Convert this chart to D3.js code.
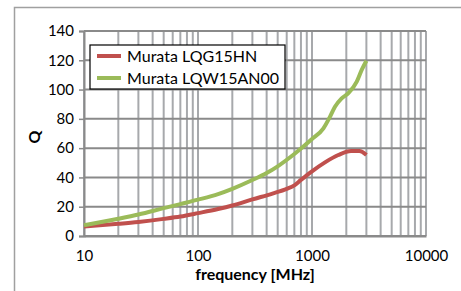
<!DOCTYPE html>
<html><head><meta charset="utf-8">
<script src="https://cdn.jsdelivr.net/npm/d3@7"></script>
<style>body{margin:0;background:#fff;} svg{display:block;font-family:Lato, "Open Sans", sans-serif;}</style>
</head><body>
<script>
const seriesNames = ["Murata LQG15HN", "Murata LQW15AN00"];
const seriesColors = ["#c0504d", "#9bbb59"];
const lqgFreq = [10, 20, 30, 50, 70, 100, 150, 200, 300, 450, 600, 700, 800, 1000, 1300, 1700, 2200, 2600, 3000];
const lqgQ    = [6.4, 8.3, 9.6, 11.7, 13.3, 15.6, 18.4, 20.8, 25.0, 29.0, 32.2, 34.6, 38.3, 44.2, 50.3, 55.3, 58.0, 58.0, 55.3];
const lqwFreq = [10, 20, 30, 50, 70, 100, 150, 200, 300, 400, 500, 700, 1000, 1260, 1440, 1590, 1820, 2085, 2470, 2730, 3000];
const lqwQ    = [7.3, 11.8, 14.7, 19.0, 21.8, 24.8, 28.6, 32.2, 38.2, 43.0, 47.6, 56.0, 66.2, 73.5, 81.5, 88.3, 94, 97.5, 105.4, 113.4, 119.7];
const xTicks = [10, 100, 1000, 10000];
const yTicks = [0, 20, 40, 60, 80, 100, 120, 140];
const xTitle = "frequency [MHz]";
const yTitle = "Q";

const W = 461, H = 291;
const svg = d3.select("body").append("svg").attr("width", W).attr("height", H);
const x = d3.scaleLog().domain([10, 10000]).range([84, 426]);
const y = d3.scaleLinear().domain([0, 140]).range([236, 31]);

// outer chart frame
svg.append("rect").attr("x", 14.5).attr("y", 7.5).attr("width", W + 10).attr("height", H + 10)
  .attr("fill", "none").attr("stroke", "#a0a0a0").attr("stroke-width", 1.5);

// vertical grid lines (log minor)
const minor = [];
for (let d = 10; d < 10000; d *= 10) for (let k = 1; k < 10; k++) minor.push(d * k);
minor.push(10000);
svg.append("g").selectAll("line").data(minor).join("line")
  .attr("x1", d => x(d)).attr("x2", d => x(d)).attr("y1", y(140)).attr("y2", y(0))
  .attr("stroke", "#a7a9ac").attr("stroke-width", 2);
// horizontal grid
svg.append("g").selectAll("line").data(yTicks).join("line")
  .attr("x1", x(10)).attr("x2", x(10000)).attr("y1", d => y(d)).attr("y2", d => y(d))
  .attr("stroke", "#8a8a8a").attr("stroke-width", 2);

// y axis
const yAxis = d3.axisLeft(y).tickValues(yTicks).tickSize(5).tickPadding(5);
const gy = svg.append("g").attr("transform", `translate(${x(10)},0)`).call(yAxis);
gy.select(".domain").attr("stroke", "#8a8a8a").attr("stroke-width", 2);
gy.selectAll(".tick line").attr("stroke", "#8a8a8a").attr("stroke-width", 1.5);
gy.selectAll("text").attr("font-family", "Lato").attr("font-size", 15).attr("fill", "#000");

// x axis
const xAxis = d3.axisBottom(x).tickValues(xTicks).tickFormat(d3.format("d")).tickSize(0).tickPadding(14);
const gx = svg.append("g").attr("transform", `translate(0,${y(0)})`).call(xAxis);
gx.select(".domain").attr("stroke", "#8a8a8a").attr("stroke-width", 2);
gx.selectAll("text").attr("font-family", "Lato").attr("font-size", 15).attr("fill", "#000");

// titles
svg.append("text").attr("x", 255).attr("y", 280).attr("text-anchor", "middle")
  .attr("font-weight", "bold").attr("font-size", 16).text(xTitle);
svg.append("text").attr("transform", "translate(40,137) rotate(-90)").attr("text-anchor", "middle")
  .attr("font-weight", "bold").attr("font-size", 16).text(yTitle);

// lines
const line = d3.line().x(d => x(d[0])).y(d => y(d[1])).curve(d3.curveMonotoneX);
const series = [d3.zip(lqgFreq, lqgQ), d3.zip(lqwFreq, lqwQ)];
series.forEach((s, i) => {
  svg.append("path").datum(s).attr("d", line).attr("fill", "none")
    .attr("stroke", seriesColors[i]).attr("stroke-width", 4).attr("stroke-linejoin", "round");
});

// legend
const lg = svg.append("g");
lg.append("rect").attr("x", 90).attr("y", 45).attr("width", 195).attr("height", 44)
  .attr("fill", "#fff").attr("stroke", "#000").attr("stroke-width", 1.2);
seriesNames.forEach((n, i) => {
  const cy = 56 + i * 22;
  lg.append("line").attr("x1", 97).attr("x2", 121).attr("y1", cy).attr("y2", cy)
    .attr("stroke", seriesColors[i]).attr("stroke-width", 4);
  lg.append("text").attr("x", 127).attr("y", cy).attr("dy", "0.35em")
    .attr("font-size", 16).text(n);
});
</script>
</body></html>
